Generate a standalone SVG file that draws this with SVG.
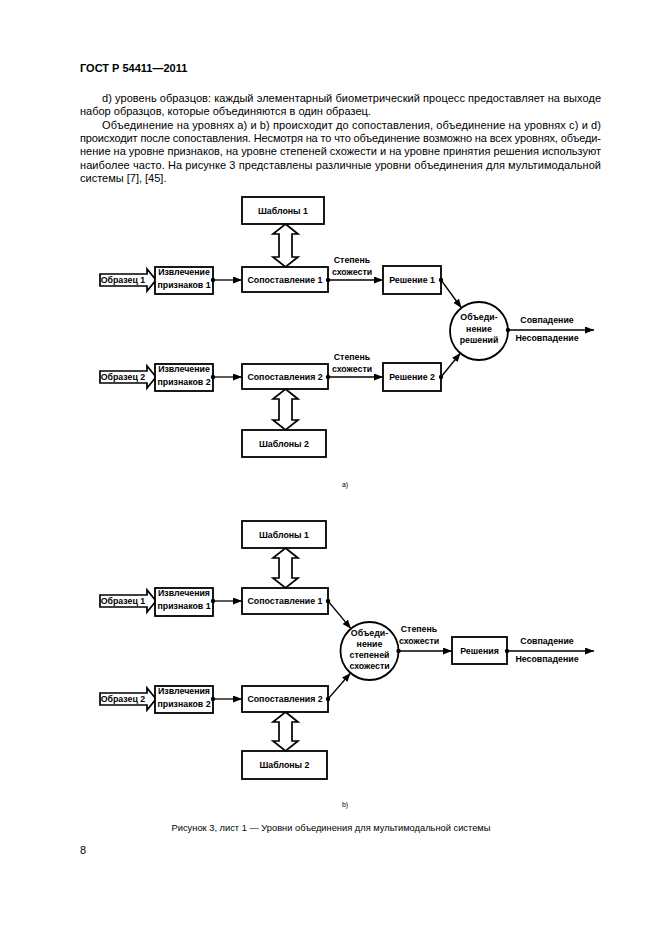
<svg xmlns="http://www.w3.org/2000/svg" width="661" height="935" viewBox="0 0 661 935">
<style>
.bg{fill:#fff}
.box{fill:#fff;stroke:#000;stroke-width:1.8}
.blk{fill:#fff;stroke:#000;stroke-width:1.7;stroke-linejoin:miter}
.ln{fill:none;stroke:#000;stroke-width:1.3}
.t{font-family:"Liberation Sans",Arial,sans-serif;font-weight:bold;font-size:8.8px;text-anchor:middle;fill:#000}
.p{font-family:"Liberation Sans",Arial,sans-serif;font-size:11px;fill:#000}
.h{font-family:"Liberation Sans",Arial,sans-serif;font-size:11px;font-weight:bold;fill:#000}
.s{font-family:"Liberation Sans",Arial,sans-serif;font-size:7px;text-anchor:middle;fill:#000}
.c{font-family:"Liberation Sans",Arial,sans-serif;font-size:9.3px;text-anchor:middle;fill:#000}
</style>
<defs>
<marker id="ah" markerUnits="userSpaceOnUse" markerWidth="9" markerHeight="7" refX="9" refY="3.5" orient="auto"><path d="M0,0 L9,3.5 L0,7 Z" fill="#000"/></marker>
<marker id="dot" markerUnits="userSpaceOnUse" markerWidth="6" markerHeight="6" refX="3" refY="3"><circle cx="3" cy="3" r="2.2" fill="#000"/></marker>
</defs>
<rect class="bg" x="0" y="0" width="661" height="935"/>

<g id="page-text">
<text class="h" x="80" y="72">ГОСТ Р 54411—2011</text>
<text class="p" x="102" y="101.5" textLength="499" lengthAdjust="spacing">d) уровень образцов: каждый элементарный биометрический процесс предоставляет на выходе</text>
<text class="p" x="80" y="114.5">набор образцов, которые объединяются в один образец.</text>
<text class="p" x="102" y="128.5" textLength="499" lengthAdjust="spacing">Объединение на уровнях a) и b) происходит до сопоставления, объединение на уровнях c) и d)</text>
<text class="p" x="80" y="141.5" textLength="521" lengthAdjust="spacing">происходит после сопоставления. Несмотря на то что объединение возможно на всех уровнях, объеди-</text>
<text class="p" x="80" y="155" textLength="521" lengthAdjust="spacing">нение на уровне признаков, на уровне степеней схожести и на уровне принятия решения используют</text>
<text class="p" x="80" y="168.5" textLength="521" lengthAdjust="spacing">наиболее часто. На рисунке 3 представлены различные уровни объединения для мультимодальной</text>
<text class="p" x="80" y="182">системы [7], [45].</text>
<text class="s" x="345" y="487">a)</text>
<text class="s" x="345" y="807">b)</text>
<text class="c" x="331" y="831">Рисунок 3, лист 1 — Уровни объединения для мультимодальной системы</text>
<text class="p" x="80" y="854">8</text>
</g>

<!-- ===== Diagram a) ===== -->
<g id="a-templ1"><rect class="box" x="242" y="197" width="82" height="27"/><text class="t" x="283" y="213.5">Шаблоны 1</text></g>
<g id="a-sample1"><polygon class="blk" points="100,274 147,274 147,269 156,280 147,291 147,286 100,286"/><text class="t" x="123" y="283">Образец 1</text></g>
<g id="a-extr1"><rect class="box" x="155" y="267" width="58" height="27"/><text class="t" x="184" y="275">Извлечение</text><text class="t" x="184" y="288">признаков 1</text></g>
<g id="a-match1"><rect class="box" x="242" y="267" width="86" height="25"/><text class="t" x="285" y="283">Сопоставление 1</text></g>
<g id="a-dec1"><rect class="box" x="383" y="266" width="58" height="28"/><text class="t" x="412" y="283">Решение 1</text></g>
<g id="a-fuse"><circle class="box" cx="479" cy="331" r="29"/><text class="t" x="479" y="320">Объеди-</text><text class="t" x="479" y="332">нение</text><text class="t" x="479" y="343">решений</text></g>
<g id="a-sample2"><polygon class="blk" points="100,371 147,371 147,366 156,377 147,388 147,383 100,383"/><text class="t" x="123" y="380">Образец 2</text></g>
<g id="a-extr2"><rect class="box" x="155" y="364" width="58" height="27"/><text class="t" x="184" y="372">Извлечение</text><text class="t" x="184" y="385">признаков 2</text></g>
<g id="a-match2"><rect class="box" x="242" y="364" width="86" height="25"/><text class="t" x="285" y="380">Сопоставления 2</text></g>
<g id="a-dec2"><rect class="box" x="383" y="363" width="58" height="28"/><text class="t" x="412" y="380">Решение 2</text></g>
<g id="a-templ2"><rect class="box" x="242" y="430" width="84" height="27"/><text class="t" x="284" y="446.5">Шаблоны 2</text></g>

<!-- ===== Diagram b) ===== -->
<g id="b-templ1"><rect class="box" x="242" y="521" width="84" height="27"/><text class="t" x="284" y="537.5">Шаблоны 1</text></g>
<g id="b-sample1"><polygon class="blk" points="100,595 147,595 147,590 156,601 147,612 147,607 100,607"/><text class="t" x="123" y="604">Образец 1</text></g>
<g id="b-extr1"><rect class="box" x="155" y="588" width="58" height="28"/><text class="t" x="184" y="596">Извлечения</text><text class="t" x="184" y="609">признаков 1</text></g>
<g id="b-match1"><rect class="box" x="242" y="588" width="86" height="26"/><text class="t" x="285" y="604">Сопоставление 1</text></g>
<g id="b-fuse"><circle class="box" cx="369.5" cy="651" r="29"/><text class="t" x="369.5" y="636">Объеди-</text><text class="t" x="369.5" y="647">нение</text><text class="t" x="369.5" y="658">степеней</text><text class="t" x="369.5" y="668.5">схожести</text></g>
<g id="b-dec"><rect class="box" x="452" y="637" width="55" height="27"/><text class="t" x="479.5" y="654">Решения</text></g>
<g id="b-sample2"><polygon class="blk" points="100,693 147,693 147,688 156,699 147,710 147,705 100,705"/><text class="t" x="123" y="702">Образец 2</text></g>
<g id="b-extr2"><rect class="box" x="155" y="686" width="58" height="27"/><text class="t" x="184" y="694">Извлечения</text><text class="t" x="184" y="707">признаков 2</text></g>
<g id="b-match2"><rect class="box" x="242" y="686" width="86" height="26"/><text class="t" x="285" y="702">Сопоставления 2</text></g>
<g id="b-templ2"><rect class="box" x="242" y="751" width="85" height="28"/><text class="t" x="284.5" y="768">Шаблоны 2</text></g>

<g id="connectors">
<!-- double arrows -->
<polygon class="blk" points="285.5,224 298,234 292,234 292,257 298,257 285.5,267 273,257 279,257 279,234 273,234"/>
<polygon class="blk" points="285.5,389 298,399 292,399 292,420 298,420 285.5,430 273,420 279,420 279,399 273,399"/>
<polygon class="blk" points="285.5,548 298,558 292,558 292,578 298,578 285.5,588 273,578 279,578 279,558 273,558"/>
<polygon class="blk" points="285.5,712 298,722 292,722 292,741 298,741 285.5,751 273,741 279,741 279,722 273,722"/>
<!-- a) -->
<line class="ln" x1="213" y1="280" x2="242" y2="280" marker-start="url(#dot)" marker-end="url(#ah)"/>
<line class="ln" x1="328" y1="280" x2="383" y2="280" marker-start="url(#dot)" marker-end="url(#ah)"/>
<line class="ln" x1="441" y1="280" x2="461.5" y2="308" marker-start="url(#dot)" marker-end="url(#ah)"/>
<line class="ln" x1="213" y1="377" x2="242" y2="377" marker-start="url(#dot)" marker-end="url(#ah)"/>
<line class="ln" x1="328" y1="377" x2="383" y2="377" marker-start="url(#dot)" marker-end="url(#ah)"/>
<line class="ln" x1="441" y1="377" x2="460.5" y2="353" marker-start="url(#dot)" marker-end="url(#ah)"/>
<line class="ln" x1="508" y1="330" x2="594" y2="330" marker-start="url(#dot)" marker-end="url(#ah)"/>
<text class="t" x="352" y="263">Степень</text><text class="t" x="352" y="275">схожести</text>
<text class="t" x="352" y="360">Степень</text><text class="t" x="352" y="372">схожести</text>
<text class="t" x="547" y="323">Совпадение</text><text class="t" x="547" y="340.5">Несовпадение</text>
<!-- b) -->
<line class="ln" x1="213" y1="601" x2="242" y2="601" marker-start="url(#dot)" marker-end="url(#ah)"/>
<line class="ln" x1="328" y1="601" x2="351" y2="628.7" marker-start="url(#dot)" marker-end="url(#ah)"/>
<line class="ln" x1="213" y1="699" x2="242" y2="699" marker-start="url(#dot)" marker-end="url(#ah)"/>
<line class="ln" x1="328" y1="699" x2="350.6" y2="673" marker-start="url(#dot)" marker-end="url(#ah)"/>
<line class="ln" x1="398.5" y1="651" x2="452" y2="651" marker-start="url(#dot)" marker-end="url(#ah)"/>
<line class="ln" x1="507" y1="651" x2="594" y2="651" marker-start="url(#dot)" marker-end="url(#ah)"/>
<text class="t" x="419" y="632">Степень</text><text class="t" x="419" y="644">схожести</text>
<text class="t" x="547" y="644">Совпадение</text><text class="t" x="547" y="661.5">Несовпадение</text>
</g>
</svg>
